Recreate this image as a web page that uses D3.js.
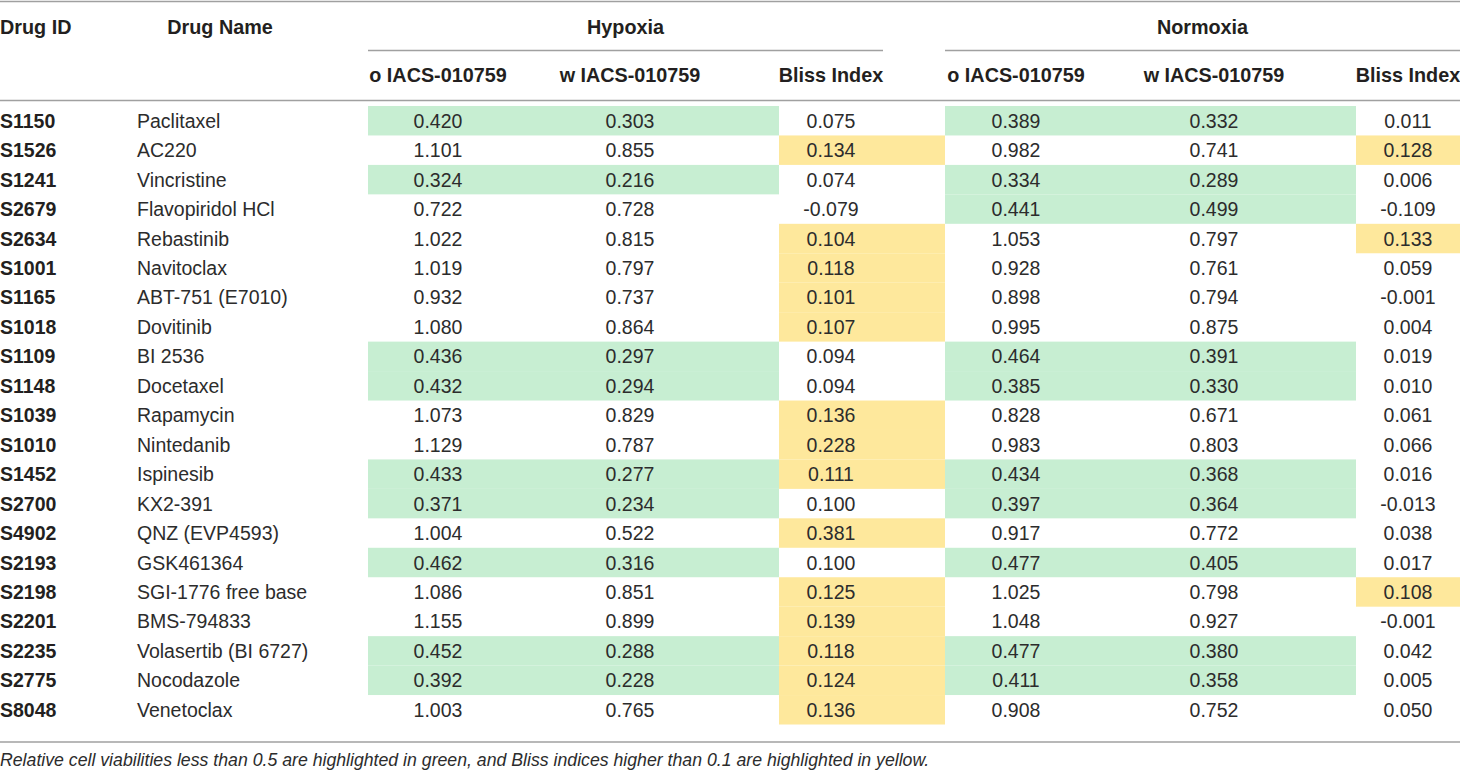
<!DOCTYPE html>
<html>
<head>
<meta charset="utf-8">
<script src="https://cdn.jsdelivr.net/npm/d3@7"></script>
<style>
  html, body { margin: 0; padding: 0; background: #fff; }
  svg { display: block; }
</style>
</head>
<body>
<svg id="chart" width="1460" height="773"></svg>
<script>
const drugIds = ["S1150","S1526","S1241","S2679","S2634","S1001","S1165","S1018","S1109","S1148","S1039","S1010","S1452","S2700","S4902","S2193","S2198","S2201","S2235","S2775","S8048"];
const drugNames = ["Paclitaxel","AC220","Vincristine","Flavopiridol HCl","Rebastinib","Navitoclax","ABT-751 (E7010)","Dovitinib","BI 2536","Docetaxel","Rapamycin","Nintedanib","Ispinesib","KX2-391","QNZ (EVP4593)","GSK461364","SGI-1776 free base","BMS-794833","Volasertib (BI 6727)","Nocodazole","Venetoclax"];
const hypoxiaWithout = [0.420,1.101,0.324,0.722,1.022,1.019,0.932,1.080,0.436,0.432,1.073,1.129,0.433,0.371,1.004,0.462,1.086,1.155,0.452,0.392,1.003];
const hypoxiaWith    = [0.303,0.855,0.216,0.728,0.815,0.797,0.737,0.864,0.297,0.294,0.829,0.787,0.277,0.234,0.522,0.316,0.851,0.899,0.288,0.228,0.765];
const hypoxiaBliss   = [0.075,0.134,0.074,-0.079,0.104,0.118,0.101,0.107,0.094,0.094,0.136,0.228,0.111,0.100,0.381,0.100,0.125,0.139,0.118,0.124,0.136];
const normoxiaWithout = [0.389,0.982,0.334,0.441,1.053,0.928,0.898,0.995,0.464,0.385,0.828,0.983,0.434,0.397,0.917,0.477,1.025,1.048,0.477,0.411,0.908];
const normoxiaWith    = [0.332,0.741,0.289,0.499,0.797,0.761,0.794,0.875,0.391,0.330,0.671,0.803,0.368,0.364,0.772,0.405,0.798,0.927,0.380,0.358,0.752];
const normoxiaBliss   = [0.011,0.128,0.006,-0.109,0.133,0.059,-0.001,0.004,0.019,0.010,0.061,0.066,0.016,-0.013,0.038,0.017,0.108,-0.001,0.042,0.005,0.050];
const groupLabels = ["Hypoxia","Normoxia"];
const subLabels = ["o IACS-010759","w IACS-010759","Bliss Index"];
const footnote = "Relative cell viabilities less than 0.5 are highlighted in green, and Bliss indices higher than 0.1 are highlighted in yellow.";

const GREEN = "#c7eed2", YELLOW = "#fee89c", LINE = "#a0a0a0", TEXT = "#231f20", BODY = "#2c2c2c";
const FONT = "'Liberation Sans', Arial, Helvetica, sans-serif";
const fmt = d3.formatLocale({decimal: ".", thousands: ",", grouping: [3], currency: ["", ""], minus: "-"}).format(".3f");

const svg = d3.select("#chart");

const y = d3.scaleBand().domain(drugIds).range([106, 724.5]).padding(0);

const columns = [
  {g: 0, k: 0, vals: hypoxiaWithout, cx: 438, x0: 368, x1: 534},
  {g: 0, k: 1, vals: hypoxiaWith, cx: 630, x0: 534, x1: 779},
  {g: 0, k: 2, vals: hypoxiaBliss, cx: 831, x0: 779, x1: 945},
  {g: 1, k: 0, vals: normoxiaWithout, cx: 1016, x0: 945, x1: 1115},
  {g: 1, k: 1, vals: normoxiaWith, cx: 1214, x0: 1115, x1: 1356},
  {g: 1, k: 2, vals: normoxiaBliss, cx: 1408, x0: 1356, x1: 1460}
];

columns.forEach(col => {
  svg.append("g").selectAll("rect")
    .data(drugIds.map((id, i) => ({id, v: col.vals[i]})))
    .join("rect")
    .attr("x", col.x0)
    .attr("y", d => y(d.id))
    .attr("width", col.x1 - col.x0)
    .attr("height", y.bandwidth())
    .attr("fill", d => col.k === 2 ? (d.v > 0.1 ? YELLOW : "none") : (d.v < 0.5 ? GREEN : "none"));
});

const lines = [[0, 1460, 1.5], [0, 1460, 100.5], [0, 1460, 742]];
lines.forEach(([a, b, yy]) => svg.append("line").attr("x1", a).attr("x2", b).attr("y1", yy).attr("y2", yy)
  .attr("stroke", LINE).attr("stroke-width", 1.6));
const groupSpans = [[368, 883], [945, 1460]];
groupSpans.forEach(([a, b]) => svg.append("line").attr("x1", a).attr("x2", b).attr("y1", 50.5).attr("y2", 50.5)
  .attr("stroke", LINE).attr("stroke-width", 1.3));

const hdr = svg.append("g").attr("font-family", FONT).attr("font-weight", "bold").attr("font-size", 19.8).attr("fill", TEXT);
hdr.append("text").attr("x", 0).attr("y", 34).text("Drug ID");
hdr.append("text").attr("x", 220).attr("y", 34).attr("text-anchor", "middle").text("Drug Name");
groupLabels.forEach((g, i) => hdr.append("text").attr("x", (groupSpans[i][0] + groupSpans[i][1]) / 2).attr("y", 34)
  .attr("text-anchor", "middle").text(g));
columns.forEach(col => hdr.append("text").attr("x", col.cx).attr("y", 82).attr("text-anchor", "middle").text(subLabels[col.k]));

const body = svg.append("g").attr("font-family", FONT).attr("font-size", 19.5).attr("fill", BODY);
body.selectAll("text.id").data(drugIds).join("text").attr("class", "id")
  .attr("x", 0).attr("y", d => y(d) + y.bandwidth() / 2).attr("dy", "0.36em")
  .attr("font-weight", "bold").attr("fill", TEXT).text(d => d);
body.selectAll("text.name").data(drugIds.map((id, i) => ({id, name: drugNames[i]}))).join("text").attr("class", "name")
  .attr("x", 137).attr("y", d => y(d.id) + y.bandwidth() / 2).attr("dy", "0.36em").text(d => d.name);
columns.forEach(col => {
  body.append("g").selectAll("text")
    .data(drugIds.map((id, i) => ({id, v: col.vals[i]})))
    .join("text")
    .attr("x", col.cx).attr("y", d => y(d.id) + y.bandwidth() / 2).attr("dy", "0.36em")
    .attr("text-anchor", "middle").text(d => fmt(d.v));
});

svg.append("text").attr("x", 0).attr("y", 766).attr("font-family", FONT).attr("font-style", "italic")
  .attr("font-size", 17.7).attr("fill", BODY).text(footnote);
</script>
</body>
</html>
